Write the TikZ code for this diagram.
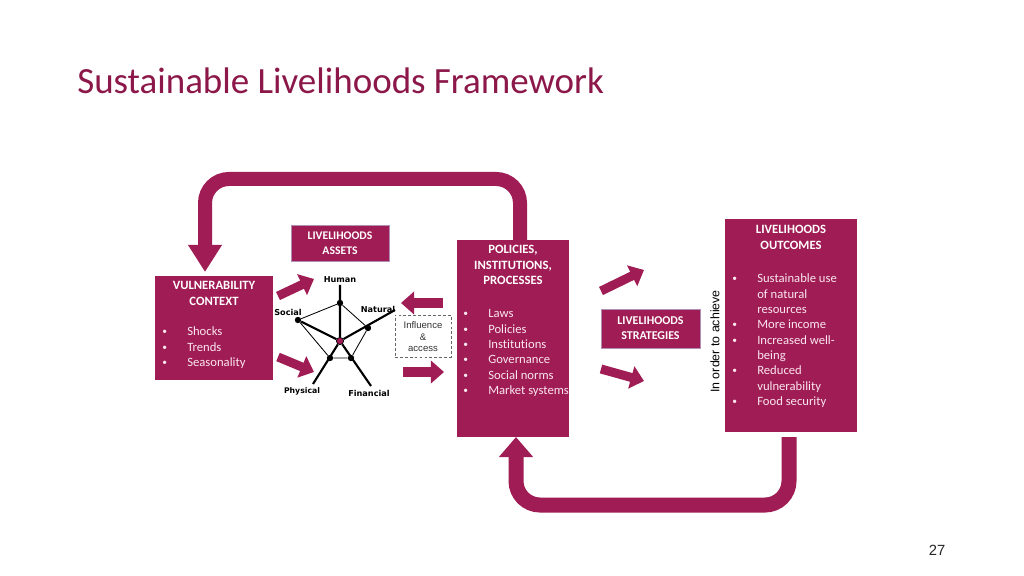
\documentclass[tikz,border=0pt]{standalone}
\usepackage{fontspec}
\setmainfont{Carlito}[Ligatures=NoCommon]
\newfontfamily\arialfont{Liberation Sans}
\newfontfamily\verdfont{DejaVu Sans}
\usetikzlibrary{arrows.meta}
\definecolor{slfred}{RGB}{160,28,84}
\definecolor{slftitle}{RGB}{140,24,74}
\definecolor{slfedge}{RGB}{176,142,184}
\definecolor{slflist}{RGB}{250,230,240}
\newcommand{\bul}{\raisebox{0.09em}{\scalebox{0.75}{\textbullet}}}

\begin{document}
\begin{tikzpicture}[x=0.025cm,y=-0.025cm,
  box/.style={rectangle,fill=slfred,inner sep=0pt,outer sep=0pt},
  edged/.style={box,draw=slfedge,line width=0.7pt},
  head/.style={text=white,font=\bfseries\fontsize{9}{10.9}\selectfont,inner sep=0pt,anchor=base},
  list/.style={text=slflist,font=\fontsize{9}{10.9}\selectfont,inner sep=0pt,anchor=base west},
  block/.style={slfred,line width=0.225cm,-{Triangle[length=0.33cm,width=0.56cm]}},
  backloop/.style={slfred,rounded corners=0.6cm},
  asset/.style={font=\verdfont\bfseries\fontsize{5.8}{7}\selectfont,inner sep=0pt},
  dot/.style={circle,fill=black,inner sep=0pt,minimum size=0.16cm},
  axis/.style={line width=1.5pt},
  rim/.style={line width=0.6pt}]

  \useasboundingbox (0,0) rectangle (1024,576);
  \fill[white] (0,0) rectangle (1024,576);

  \node[anchor=base west,inner sep=0pt,text=slftitle,font=\fontsize{26.3}{30}\selectfont] (ttl) at (77,94) {Sustainable Livelihoods Framework};

  % boxes
  \node[box,minimum width=2.95cm,minimum height=2.6cm] (vul) at (214,328) {};
  \node[edged,minimum width=2.45cm,minimum height=0.9cm] (ast) at (340,243) {};
  \node[box,minimum width=2.8cm,minimum height=4.925cm] (pol) at (513,338.5) {};
  \node[edged,minimum width=2.475cm,minimum height=0.975cm] (str) at (650.5,328.5) {};
  \node[box,minimum width=3.3cm,minimum height=5.325cm] (out) at (791,325.5) {};

  \node[head] (vulh) at ([shift={(0,14)}]vul.north) {\begin{tabular}[t]{@{}c@{}}VULNERABILITY\\CONTEXT\end{tabular}};
  \node[head,font=\bfseries\fontsize{8.3}{10}\selectfont] (asth) at ([shift={(0,15)}]ast.north) {\begin{tabular}[t]{@{}c@{}}LIVELIHOODS\\ASSETS\end{tabular}};
  \node[head] (polh) at ([shift={(0,14)}]pol.north) {\begin{tabular}[t]{@{}c@{}}POLICIES,\\INSTITUTIONS,\\PROCESSES\end{tabular}};
  \node[head,font=\bfseries\fontsize{8.5}{10}\selectfont] (strh) at ([shift={(0,16)}]str.north) {\begin{tabular}[t]{@{}c@{}}LIVELIHOODS\\STRATEGIES\end{tabular}};
  \node[head] (outh) at ([shift={(0,15)}]out.north) {\begin{tabular}[t]{@{}c@{}}LIVELIHOODS\\OUTCOMES\end{tabular}};

  \node[list] (vull) at ([shift={(7,60)}]vul.north west) {\begin{tabular}[t]{@{}p{0.625cm}@{}l@{}}
    \bul & Shocks\\ \bul & Trends\\ \bul & Seasonality\end{tabular}};
  \node[list] (poll) at ([shift={(6,78)}]pol.north west) {\begin{tabular}[t]{@{}p{0.625cm}@{}l@{}}
    \bul & Laws\\ \bul & Policies\\ \bul & Institutions\\
    \bul & Governance\\ \bul & Social norms\\ \bul & Market systems\end{tabular}};
  \node[list] (outl) at ([shift={(7,64)}]out.north west) {\begin{tabular}[t]{@{}p{0.625cm}@{}l@{}}
    \bul & Sustainable use\\ & of natural\\ & resources\\ \bul & More income\\
    \bul & Increased well-\\ & being\\ \bul & Reduced\\ & vulnerability\\
    \bul & Food security\end{tabular}};

  \node[rotate=90,inner sep=0pt,font=\arialfont\fontsize{8.8}{10}\selectfont] (ach) at (715,341.5) {In order to achieve};

  % asset pentagon
  \node[dot,fill=slfred,draw=black,line width=0.5pt,minimum size=0.18cm] (ctr) at (340,341) {};
  \node[dot] (hum) at (340,303) {};
  \node[dot] (soc) at (298,320) {};
  \node[dot] (nat) at (368,328) {};
  \node[dot] (fin) at (351,358) {};
  \node[dot] (phy) at (330,358) {};
  \coordinate (humE) at (340,285);
  \coordinate (natE) at (395,310);
  \coordinate (finE) at (371,386);
  \coordinate (phyE) at (313,384);
  \draw[rim] (hum) -- (nat) -- (fin) -- (phy) -- (soc) -- (hum);
  \draw[axis] (ctr) -- (humE) (ctr) -- (soc) (ctr) -- (natE) (ctr) -- (finE) (ctr) -- (phyE);

  \node[asset] (humL) at (340,280) {Human};
  \node[asset] (socL) at (288,312) {Social};
  \node[asset] (natL) at (378,309) {Natural};
  \node[asset,font=\verdfont\bfseries\fontsize{5.5}{7}\selectfont] (phyL) at (302,391) {Physical};
  \node[asset] (finL) at (369,393) {Financial};

  \node[draw=black!60,dash pattern=on 2pt off 1.5pt,line width=0.5pt,minimum width=1.4cm,minimum height=1.05cm,inner sep=0pt] (inf) at (423,336) {};
  \node[anchor=base,inner sep=0pt,text=black!80,font=\arialfont\fontsize{6.8}{8.2}\selectfont] (infT) at ([shift={(0,14)}]inf.north) {\begin{tabular}[t]{@{}c@{}}Influence\\\&\\access\end{tabular}};

  % block arrows
  \coordinate (v1s) at (278,296); \coordinate (v1e) at (314,279);
  \coordinate (v2s) at (278,357); \coordinate (v2e) at (314,372);
  \coordinate (i1s) at (443,303); \coordinate (i1e) at (401,303);
  \coordinate (i2s) at (403,372); \coordinate (i2e) at (444,372);
  \coordinate (p1s) at (601,291); \coordinate (p1e) at (644,270);
  \coordinate (p2s) at (601,369); \coordinate (p2e) at (644,381);
  \draw[block] (v1s) -- (v1e);
  \draw[block] (v2s) -- (v2e);
  \draw[block] (i1s) -- (i1e);
  \draw[block] (i2s) -- (i2e);
  \draw[block] (p1s) -- (p1e);
  \draw[block] (p2s) -- (p2e);

  \draw[backloop,line width=0.35cm,-{Triangle[length=0.675cm,width=0.8cm]}]
    ([shift={(7,0)}]pol.north) -- ++(0,-61) -| ([shift={(-9,-4)}]vul.north);
  \draw[backloop,line width=0.375cm,-{Triangle[length=0.5cm,width=0.825cm]}]
    ([shift={(-2,5)}]out.south) -- ++(0,68) -| ([shift={(3,0)}]pol.south);

  \node[anchor=base,inner sep=0pt,text=black!85,font=\arialfont\fontsize{10.5}{12}\selectfont] (pg) at (937,555) {27};
\end{tikzpicture}
\end{document}
